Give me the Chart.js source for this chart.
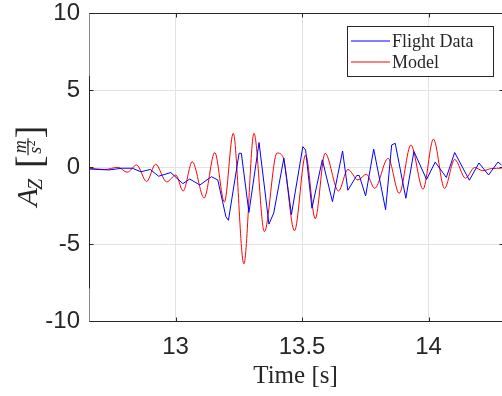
<!DOCTYPE html>
<html>
<head>
<meta charset="utf-8">
<script src="https://cdn.jsdelivr.net/npm/chart.js@4.4.1/dist/chart.umd.min.js"></script>
<style>
  html, body { margin: 0; padding: 0; background: #fff; }
  #wrap { position: relative; width: 502px; height: 396px; overflow: hidden; }
</style>
</head>
<body>
<div id="wrap"><canvas id="chart"></canvas></div>
<script>
// values
const flightTime = [12.658, 12.737, 12.789, 12.829, 12.863, 12.900, 12.933, 12.981, 13.029, 13.056, 13.096, 13.142, 13.167, 13.199, 13.209, 13.251, 13.260, 13.290, 13.330, 13.369, 13.388, 13.428, 13.458, 13.503, 13.514, 13.539, 13.580, 13.620, 13.660, 13.681, 13.716, 13.726, 13.751, 13.783, 13.830, 13.854, 13.868, 13.910, 13.942, 13.992, 14.026, 14.070, 14.103, 14.161, 14.199, 14.237, 14.274, 14.288]
const flightAz = [-0.13, -0.19, -0.08, -0.08, -0.31, -0.16, -0.60, -0.36, -1.08, -0.78, -1.17, -0.63, -0.84, -3.23, -3.46, 0.89, 0.89, -2.95, 1.59, -3.71, -2.99, 0.58, -3.09, 1.32, 1.10, -2.68, 0.47, -2.25, 1.04, -1.51, -0.55, -0.55, -1.88, 1.16, -2.77, 1.43, 1.54, -2.03, 1.01, -0.81, 0.32, -0.68, 0.94, -0.86, 0.26, -0.52, 0.32, 0.13]

const modelTime = [12.658, 12.721, 12.773, 12.809, 12.846, 12.886, 12.921, 12.965, 13.001, 13.030, 13.066, 13.113, 13.155, 13.193, 13.228, 13.270, 13.310, 13.351, 13.401, 13.424, 13.470, 13.514, 13.552, 13.591, 13.644, 13.681, 13.721, 13.754, 13.787, 13.840, 13.884, 13.930, 13.978, 14.019, 14.063, 14.103, 14.146, 14.182, 14.214, 14.249, 14.288]
const modelAz = [-0.08, -0.16, -0.02, -0.34, 0.13, -0.94, 0.18, -0.97, -0.52, -1.56, 0.34, -2.01, 0.94, -2.27, 2.19, -6.29, 2.19, -4.20, 0.91, 0.67, -4.14, 0.78, -3.36, 0.89, -1.56, -0.16, -0.84, -0.47, -1.38, 0.56, -1.71, 1.43, -1.44, 1.81, -1.39, 0.49, -0.73, -0.03, -0.24, -0.10, -0.08]

const xTicks = [13, 13.5, 14]
const yTicks = [-10, -5, 0, 5, 10]
const seriesNames = ["Flight Data", "Model"]
const seriesColors = ["#0000ff", "#ff0000"]

const axisColor = "#262626"
const sansFont = "'Liberation Sans', Arial, sans-serif"
const serifFont = "'Liberation Serif', 'Times New Roman', serif"

function toPoints(xs, ys) {
    return xs.map((x, i) => ({ x: x, y: ys[i] }))
}

// box, inward ticks and the odd two-tone left axis line
const framePlugin = {
    id: "frame",
    afterDraw(chart) {
        const ctx = chart.ctx
        const a = chart.chartArea
        const xs = chart.scales.x
        const ys = chart.scales.y
        const L = Math.round(a.left) + 0.5
        const R = Math.round(a.right) + 1.5
        const T = Math.round(a.top) + 0.5
        const B = Math.round(a.bottom) + 0.5
        ctx.save()
        ctx.lineWidth = 1
        ctx.strokeStyle = axisColor
        ctx.beginPath()
        ctx.moveTo(L, B); ctx.lineTo(R, B)
        ctx.moveTo(L, T); ctx.lineTo(R, T)
        ctx.stroke()

        // left axis: lighter at both ends like the reference
        const y6 = ys.getPixelForValue(5.9)
        const yM8 = ys.getPixelForValue(-7.9)
        ctx.strokeStyle = "#8a8a8a"
        ctx.beginPath()
        ctx.moveTo(L, T); ctx.lineTo(L, y6)
        ctx.moveTo(L, yM8); ctx.lineTo(L, B)
        ctx.stroke()
        ctx.strokeStyle = axisColor
        ctx.beginPath()
        ctx.moveTo(L, y6); ctx.lineTo(L, yM8)
        ctx.stroke()

        const tl = 4
        ctx.beginPath()
        xTicks.forEach(v => {
            const px = Math.round(xs.getPixelForValue(v)) + 0.5
            ctx.moveTo(px, B); ctx.lineTo(px, B - tl)
            ctx.moveTo(px, T); ctx.lineTo(px, T + tl)
        })
        yTicks.forEach(v => {
            const py = Math.round(ys.getPixelForValue(v)) + 0.5
            ctx.moveTo(L, py); ctx.lineTo(L + tl, py)
            ctx.moveTo(R, py); ctx.lineTo(R - tl, py)
        })
        ctx.stroke()
        ctx.restore()
    }
}

const legendPlugin = {
    id: "insideLegend",
    afterDraw(chart) {
        const ctx = chart.ctx
        const bx = 347.5, by = 26.5, bw = 146, bh = 50
        ctx.save()
        ctx.fillStyle = "#fff"
        ctx.fillRect(bx, by, bw, bh)
        ctx.strokeStyle = axisColor
        ctx.lineWidth = 1
        ctx.strokeRect(bx, by, bw, bh)
        ctx.font = "18px " + serifFont
        ctx.textBaseline = "middle"
        seriesNames.forEach((name, i) => {
            const y = 41 + i * 21
            ctx.strokeStyle = seriesColors[i]
            ctx.beginPath()
            ctx.moveTo(351, y); ctx.lineTo(390, y)
            ctx.stroke()
            ctx.fillStyle = axisColor
            ctx.fillText(name, 392, y + 1)
        })
        ctx.restore()
    }
}

// A_Z [m/s^2] drawn rotated, LaTeX style
const yTitlePlugin = {
    id: "yTitle",
    afterDraw(chart) {
        const ctx = chart.ctx
        const fA = "italic 30px " + serifFont
        const fZ = "italic 20px " + serifFont
        const fBr = "38px " + serifFont
        const fFr = "italic 18px " + serifFont
        const fSup = "12px " + serifFont
        ctx.save()
        ctx.translate(25, 166)
        ctx.rotate(-Math.PI / 2)
        ctx.fillStyle = axisColor
        ctx.strokeStyle = axisColor
        ctx.textBaseline = "alphabetic"
        ctx.font = fA; const wA = ctx.measureText("A").width
        ctx.font = fZ; const wZ = ctx.measureText("Z").width
        ctx.font = fBr; const wB = ctx.measureText("[").width
        ctx.font = fFr; const wM = ctx.measureText("m").width; const wS = ctx.measureText("s").width
        const wFrac = Math.max(wM, wS + 7) + 3
        const gap = 9
        const total = wA + wZ + gap + wB + wFrac + wB
        let x = -total / 2
        const base = 12
        ctx.font = fA; ctx.fillText("A", x, base); x += wA
        ctx.font = fZ; ctx.fillText("Z", x - 2, base + 5); x += wZ + gap
        ctx.font = fBr; ctx.fillText("[", x, base + 5); x += wB
        const line = base - 9
        ctx.lineWidth = 1.2
        ctx.beginPath(); ctx.moveTo(x, line); ctx.lineTo(x + wFrac, line); ctx.stroke()
        ctx.font = fFr
        ctx.fillText("m", x + (wFrac - wM) / 2, line - 2)
        const sx = x + (wFrac - wS - 7) / 2
        ctx.fillText("s", sx, line + 13)
        ctx.font = fSup; ctx.fillText("2", sx + wS + 0.5, line + 7)
        x += wFrac
        ctx.font = fBr; ctx.fillText("]", x, base + 5)
        ctx.restore()
    }
}

const ctx = document.getElementById("chart").getContext("2d")
new Chart(ctx, {
    type: "line",
    data: {
        datasets: [
            {
                label: seriesNames[0],
                data: toPoints(flightTime, flightAz),
                borderColor: seriesColors[0],
                borderWidth: 1,
                pointRadius: 0,
                tension: 0,
                fill: false
            },
            {
                label: seriesNames[1],
                data: toPoints(modelTime, modelAz),
                borderColor: seriesColors[1],
                borderWidth: 1,
                pointRadius: 0,
                cubicInterpolationMode: "monotone",
                fill: false
            }
        ]
    },
    options: {
        responsive: true,
        maintainAspectRatio: false,
        animation: false,
        layout: { padding: { top: 13, right: 0, left: 0, bottom: 0 } },
        plugins: {
            legend: { display: false },
            tooltip: { enabled: false }
        },
        scales: {
            x: {
                type: "linear",
                min: 12.658,
                max: 14.29,
                afterBuildTicks: s => { s.ticks = xTicks.map(v => ({ value: v })) },
                afterFit: s => { s.height = 75; s.paddingLeft = 0; s.paddingRight = 0 },
                grid: { color: "#e3e3e3", drawTicks: false },
                border: { display: false },
                title: {
                    display: true,
                    text: "Time [s]",
                    color: axisColor,
                    font: { family: serifFont, size: 25 },
                    padding: { top: 0, bottom: 5 }
                },
                ticks: {
                    color: axisColor,
                    font: { family: sansFont, size: 24 },
                    padding: 12,
                    maxRotation: 0,
                    autoSkip: false,
                    callback: v => String(v)
                }
            },
            y: {
                type: "linear",
                min: -10,
                max: 10,
                afterBuildTicks: s => { s.ticks = yTicks.map(v => ({ value: v })) },
                afterFit: s => { s.width = 89; s.paddingTop = 0; s.paddingBottom = 0 },
                grid: { color: "#e3e3e3", drawTicks: false },
                border: { display: false },
                ticks: {
                    color: axisColor,
                    font: { family: sansFont, size: 24 },
                    padding: 9,
                    autoSkip: false,
                    callback: v => String(v)
                }
            }
        }
    },
    plugins: [framePlugin, legendPlugin, yTitlePlugin]
})
</script>
</body>
</html>
